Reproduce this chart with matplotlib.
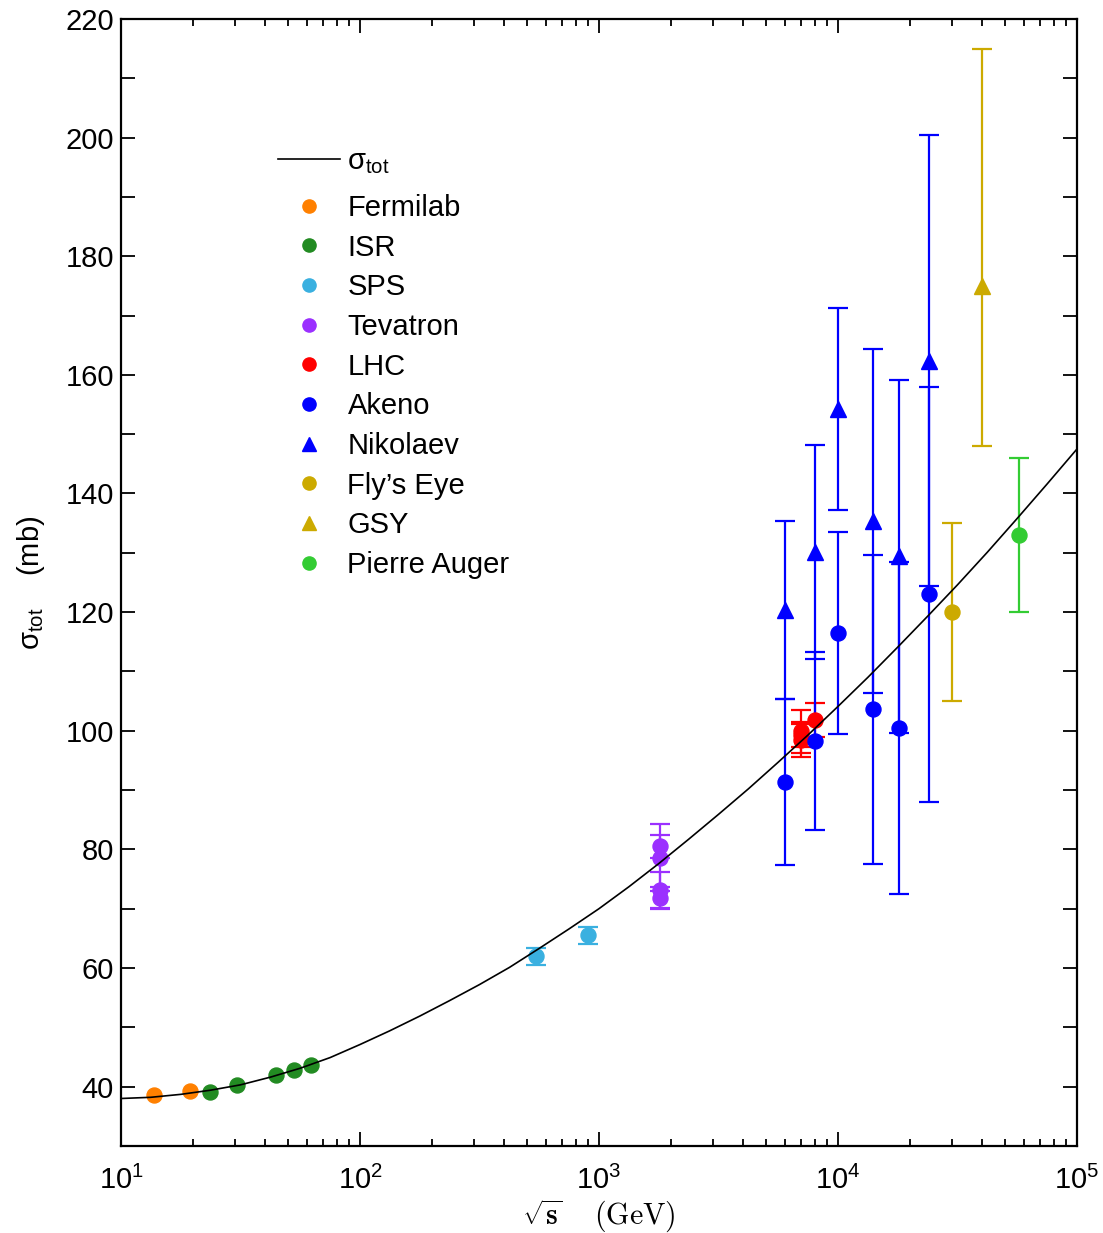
import matplotlib
matplotlib.use("Agg")
import matplotlib.pyplot as plt
from matplotlib.lines import Line2D
from matplotlib.ticker import MultipleLocator, LogLocator, NullFormatter

plt.rcParams['font.family'] = ['Liberation Sans', 'DejaVu Sans']
plt.rcParams['mathtext.fontset'] = 'custom'
plt.rcParams['mathtext.rm'] = 'Liberation Sans'
plt.rcParams['mathtext.it'] = 'Liberation Sans:italic'
plt.rcParams['mathtext.default'] = 'regular'

# fitted sigma_tot curve (sqrt(s) in GeV, mb)
curve_x = [10, 13.3, 17.8, 23.7, 31.6, 42.2, 56.2, 75.0, 100, 133, 178, 237,
           316, 422, 562, 750, 1000, 1334, 1778, 2371, 3162, 4217, 5623, 7499,
           10000, 13335, 17783, 23714, 31623, 42170, 56234, 74989, 100000]
curve_y = [38.0, 38.2, 38.7, 39.4, 40.3, 41.6, 43.1, 44.9, 47.1, 49.4, 51.9,
           54.5, 57.2, 60.1, 63.3, 66.6, 70.0, 73.7, 77.6, 81.7, 85.9, 90.2,
           94.7, 99.3, 104.1, 109.0, 114.1, 119.3, 124.6, 130.1, 135.8, 141.6,
           147.5]

fermilab_x = [13.8, 19.4]
fermilab_y = [38.6, 39.2]

isr_x = [23.5, 30.6, 44.7, 52.8, 62.5]
isr_y = [39.1, 40.3, 42.0, 42.8, 43.6]

sps_x = [546, 900]
sps_y = [62.0, 65.5]
sps_err = [1.45, 1.45]

tev_x = [1800, 1800, 1800, 1800]
tev_y = [80.5, 78.6, 73.2, 71.8]
tev_err = [2.0, 5.7, 3.0, 1.9]

lhc_x = [7000, 7000, 7000, 8000]
lhc_y = [98.5, 99.2, 99.9, 101.8]
lhc_err = [2.9, 2.0, 3.6, 2.9]

akeno_x = [6000, 8000, 10000, 14000, 18000, 24000]
akeno_y = [91.3, 98.2, 116.5, 103.6, 100.4, 123.0]
akeno_err = [14, 15, 17, 26, 28, 35]

nikolaev_x = [6000, 8000, 10000, 14000, 18000, 24000]
nikolaev_y = [120.3, 130.1, 154.3, 135.4, 129.4, 162.4]
nikolaev_err = [15, 18, 17, 29, 29.7, 38]

flys_x = [30000]
flys_y = [120]
flys_err = [15]

gsy_x = [40000]
gsy_y = [175]
gsy_err_lo = [27]
gsy_err_hi = [40]

auger_x = [57000]
auger_y = [133]
auger_err = [13]

c_fermi = "#ff8000"
c_isr = "#228b22"
c_sps = "#3ab0e0"
c_tev = "#9b30ff"
c_lhc = "#ff0000"
c_blue = "#0000ff"
c_gold = "#ccaa00"
c_auger = "#33cc33"


def bars(ax, x, y, err, color, marker="o", ms=10.8):
    ax.errorbar(x, y, yerr=err, fmt=marker, color=color, ecolor=color,
                ms=ms, elinewidth=1.6, capsize=7, capthick=1.6, zorder=3)


fig = plt.figure(figsize=(11.03, 12.33), dpi=100)
ax = fig.add_axes([0.1097, 0.0706, 0.8667, 0.914])

ax.plot(fermilab_x, fermilab_y, "o", color=c_fermi, ms=10.8, zorder=3)
ax.plot(isr_x, isr_y, "o", color=c_isr, ms=10.8, zorder=3)
bars(ax, sps_x, sps_y, sps_err, c_sps)
bars(ax, tev_x, tev_y, tev_err, c_tev)
bars(ax, lhc_x, lhc_y, lhc_err, c_lhc)
bars(ax, akeno_x, akeno_y, akeno_err, c_blue)
bars(ax, nikolaev_x, nikolaev_y, nikolaev_err, c_blue, marker="^", ms=12)
bars(ax, flys_x, flys_y, flys_err, c_gold)
bars(ax, gsy_x, gsy_y, [gsy_err_lo, gsy_err_hi], c_gold, marker="^", ms=12)
bars(ax, auger_x, auger_y, auger_err, c_auger)

ax.plot(curve_x, curve_y, color="black", lw=1.2, zorder=4)

ax.set_xscale("log")
ax.set_xlim(10, 1e5)
ax.set_ylim(30, 220)
ax.set_yticks(range(40, 221, 20))
ax.yaxis.set_minor_locator(MultipleLocator(10))
ax.xaxis.set_major_locator(LogLocator(base=10, numticks=10))
ax.xaxis.set_minor_locator(LogLocator(base=10, subs=range(2, 10), numticks=20))
ax.xaxis.set_minor_formatter(NullFormatter())

ax.tick_params(which="both", direction="in", top=True, right=True,
               labelsize=21, width=1.3)
ax.tick_params(axis="y", which="both", length=10, pad=5)
ax.tick_params(axis="x", which="major", length=10, pad=14)
ax.tick_params(axis="x", which="minor", length=5)
for sp in ax.spines.values():
    sp.set_linewidth(1.6)

ax.set_ylabel(r"$\sigma_{tot}$    (mb)", fontsize=21, labelpad=13)
ax.set_xlabel(r"$\sqrt{\mathbf{s}}\quad\;\mathrm{(GeV)}$", fontsize=21.5,
              math_fontfamily="cm", labelpad=2)

leg_style = dict(loc="upper left", frameon=False, fontsize=21, borderpad=0,
                 borderaxespad=0, handlelength=2.12, handletextpad=0.27,
                 labelspacing=0.4)

curve_leg = ax.legend([Line2D([], [], color="black", lw=1.2)],
                      [r"$\sigma_{tot}$"], bbox_to_anchor=(0.164, 0.886),
                      **leg_style)
ax.add_artist(curve_leg)

handles = [
    Line2D([], [], ls="none", marker="o", color=c_fermi, ms=9.5),
    Line2D([], [], ls="none", marker="o", color=c_isr, ms=9.5),
    Line2D([], [], ls="none", marker="o", color=c_sps, ms=9.5),
    Line2D([], [], ls="none", marker="o", color=c_tev, ms=9.5),
    Line2D([], [], ls="none", marker="o", color=c_lhc, ms=9.5),
    Line2D([], [], ls="none", marker="o", color=c_blue, ms=9.5),
    Line2D([], [], ls="none", marker="^", color=c_blue, ms=10.5),
    Line2D([], [], ls="none", marker="o", color=c_gold, ms=9.5),
    Line2D([], [], ls="none", marker="^", color=c_gold, ms=10.5),
    Line2D([], [], ls="none", marker="o", color=c_auger, ms=9.5),
]
labels = ["Fermilab", "ISR", "SPS", "Tevatron", "LHC",
          "Akeno", "Nikolaev", "Fly\u2019s Eye", "GSY", "Pierre Auger"]
ax.legend(handles, labels, bbox_to_anchor=(0.164, 0.8447), **leg_style)

fig.savefig("out.png", dpi=100)
